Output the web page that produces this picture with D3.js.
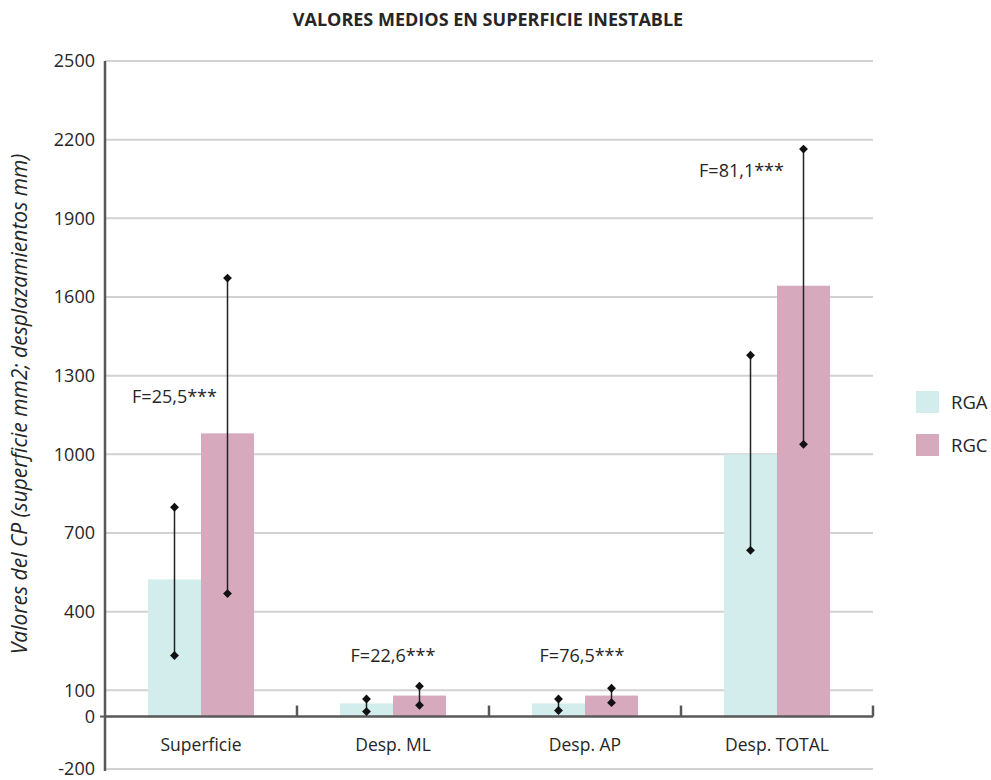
<!DOCTYPE html>
<html>
<head>
<meta charset="utf-8">
<script src="https://cdn.jsdelivr.net/npm/d3@7"></script>
<style>
  body { margin: 0; background: #fff; }
  text { font-family: "Open Sans", sans-serif; fill: #262626; }
</style>
</head>
<body>
<div id="chart"></div>
<script>
// data
var categories = ["Superficie", "Desp. ML", "Desp. AP", "Desp. TOTAL"];
var groups = ["RGA", "RGC"];
var rgaMean = [523, 50, 50, 1000];
var rgaLow  = [233, 19, 23, 634];
var rgaHigh = [798, 67, 67, 1378];
var rgcMean = [1080, 80, 80, 1643];
var rgcLow  = [469, 43, 53, 1038];
var rgcHigh = [1672, 116, 108, 2164];
var yTicks = [-200, 0, 100, 400, 700, 1000, 1300, 1600, 1900, 2200, 2500];
var fLabels = ["F=25,5***", "F=22,6***", "F=76,5***", "F=81,1***"];
var fValue  = [1220, 233, 233, 2084];
var fGroup  = ["RGA", null, null, "RGA"];

var colors = {RGA: "#d3ecec", RGC: "#d6a9bd"};

// set the dimensions and margins of the graph
var margin = {top: 61, right: 118, bottom: 11, left: 105},
    width = 991 - margin.left - margin.right,
    height = 780 - margin.top - margin.bottom;

var svg = d3.select("#chart")
  .append("svg")
    .attr("width", 991)
    .attr("height", 780);

var g = svg.append("g")
    .attr("transform", "translate(" + margin.left + "," + margin.top + ")");

var y = d3.scaleLinear()
  .domain([-200, 2500])
  .range([708, 0]);

var x = d3.scaleBand()
  .domain(categories)
  .range([0, width]);

var xSub = d3.scaleBand()
  .domain(groups)
  .range([0, 106]);
var off = (x.bandwidth() - 106) / 2;

// gridlines
g.selectAll(".grid")
  .data(yTicks.filter(function(d){ return d != 0; }))
  .enter().append("line")
    .attr("x1", 0).attr("x2", width)
    .attr("y1", function(d){ return y(d); })
    .attr("y2", function(d){ return y(d); })
    .attr("stroke", "#d2d2d2")
    .attr("stroke-width", 2);

// y tick labels
g.selectAll(".ylab")
  .data(yTicks)
  .enter().append("text")
    .attr("x", -10)
    .attr("y", function(d){ return y(d); })
    .attr("dy", "0.36em")
    .attr("text-anchor", "end")
    .style("font-size", "18px")
    .text(function(d){ return d; });

// build rows
var rows = [];
categories.forEach(function(c, i){
  rows.push({cat: c, grp: "RGA", mean: rgaMean[i], low: rgaLow[i], high: rgaHigh[i]});
  rows.push({cat: c, grp: "RGC", mean: rgcMean[i], low: rgcLow[i], high: rgcHigh[i]});
});

// bars
g.selectAll(".bar")
  .data(rows)
  .enter().append("rect")
    .attr("x", function(d){ return x(d.cat) + off + xSub(d.grp); })
    .attr("width", xSub.bandwidth())
    .attr("y", function(d){ return y(d.mean); })
    .attr("height", function(d){ return y(0) - y(d.mean); })
    .attr("fill", function(d){ return colors[d.grp]; });

// x axis line + ticks
g.append("line")
  .attr("x1", 0).attr("x2", width)
  .attr("y1", y(0)).attr("y2", y(0))
  .attr("stroke", "#58585a").attr("stroke-width", 2.5);
g.selectAll(".xtick")
  .data(categories.slice(1).concat(["end"]))
  .enter().append("line")
    .attr("x1", function(d){ return d == "end" ? width : x(d); })
    .attr("x2", function(d){ return d == "end" ? width : x(d); })
    .attr("y1", y(0) - 11).attr("y2", y(0))
    .attr("stroke", "#58585a").attr("stroke-width", 2.5);

// y axis line
g.append("line")
  .attr("x1", 0).attr("x2", 0)
  .attr("y1", y(2500)).attr("y2", y(-200) + 2)
  .attr("stroke", "#58585a").attr("stroke-width", 2.5);
g.append("line")
  .attr("x1", -5).attr("x2", 0)
  .attr("y1", y(0)).attr("y2", y(0))
  .attr("stroke", "#58585a").attr("stroke-width", 2);

// x labels
g.selectAll(".xlab")
  .data(categories)
  .enter().append("text")
    .attr("x", function(d){ return x(d) + x.bandwidth() / 2; })
    .attr("y", y(0) + 28)
    .attr("dy", "0.36em")
    .attr("text-anchor", "middle")
    .style("font-size", "17.5px")
    .text(function(d){ return d; });

// error bars
var cx = function(d){ return x(d.cat) + off + xSub(d.grp) + xSub.bandwidth() / 2; };
g.selectAll(".err")
  .data(rows)
  .enter().append("line")
    .attr("x1", cx).attr("x2", cx)
    .attr("y1", function(d){ return y(d.low); })
    .attr("y2", function(d){ return y(d.high); })
    .attr("stroke", "#222").attr("stroke-width", 1.5);

var ends = [];
rows.forEach(function(d){
  ends.push({d: d, v: d.low});
  ends.push({d: d, v: d.high});
});
var diamond = d3.symbol().type(d3.symbolDiamond2).size(50);
g.selectAll(".end")
  .data(ends)
  .enter().append("path")
    .attr("d", diamond)
    .attr("transform", function(e){ return "translate(" + cx(e.d) + "," + y(e.v) + ")"; })
    .attr("fill", "#111");

// F annotations
g.selectAll(".flab")
  .data(fLabels)
  .enter().append("text")
    .attr("x", function(d, i){
      if (fGroup[i]) return x(categories[i]) + off + xSub(fGroup[i]) + xSub.bandwidth() / 2 - (i == 3 ? 9 : 0);
      return x(categories[i]) + x.bandwidth() / 2 - (i == 2 ? 3 : 0);
    })
    .attr("y", function(d, i){ return y(fValue[i]); })
    .attr("dy", "0.36em")
    .attr("text-anchor", "middle")
    .style("font-size", "18px")
    .text(function(d){ return d; });

// title
svg.append("text")
  .attr("x", 488)
  .attr("y", 26)
  .attr("text-anchor", "middle")
  .style("font-size", "18px")
  .style("font-weight", "bold")
  .text("VALORES MEDIOS EN SUPERFICIE INESTABLE");

// y axis title
svg.append("text")
  .attr("transform", "translate(27,404) rotate(-90)")
  .attr("text-anchor", "middle")
  .style("font-size", "21px")
  .style("font-style", "italic")
  .text("Valores del CP (superficie mm2; desplazamientos mm)");

// legend
var legend = svg.selectAll(".legend")
  .data(groups)
  .enter().append("g")
    .attr("transform", function(d, i){ return "translate(916," + (391 + i * 43) + ")"; });
legend.append("rect")
  .attr("width", 23).attr("height", 22)
  .attr("fill", function(d){ return colors[d]; });
legend.append("text")
  .attr("x", 35).attr("y", 11)
  .attr("dy", "0.36em")
  .style("font-size", "18.5px")
  .text(function(d){ return d; });
</script>
</body>
</html>
